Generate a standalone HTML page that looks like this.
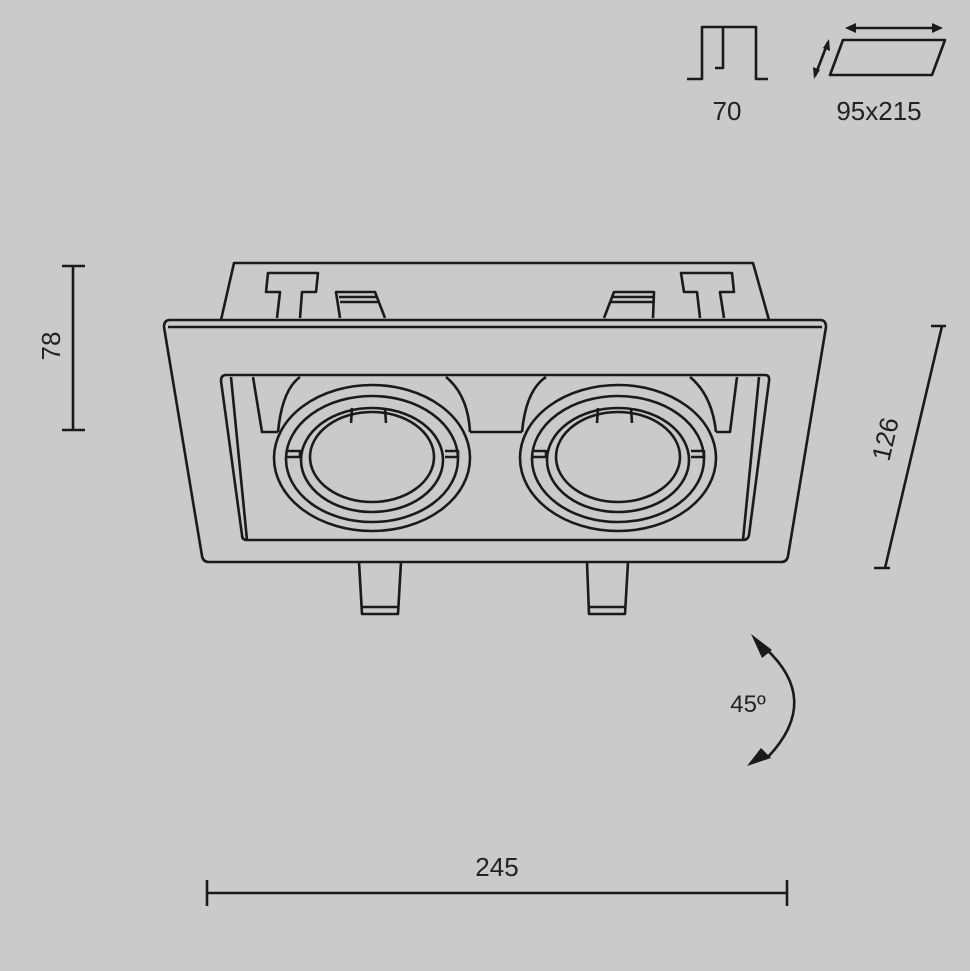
<!DOCTYPE html>
<html><head><style>
html,body{margin:0;padding:0;background:#cacaca;}
svg{display:block}
text{font-family:"Liberation Sans",sans-serif;fill:#222;}
</style></head><body>
<svg width="970" height="971" viewBox="0 0 970 971" xmlns="http://www.w3.org/2000/svg">
<rect width="970" height="971" fill="#cacaca"/>
<g fill="none" stroke="#1a1a1a" stroke-width="2.6" stroke-linejoin="round">
<!-- top icons -->
<path d="M687 79 H702 V27 H756 V79 H768"/>
<path d="M723 27 V68 H715"/>
<path d="M843 40 H945 L932 75 H830 Z"/>
<path d="M848 28 H940"/>
<path d="M828 42 L815 76"/>
</g>
<g fill="#1a1a1a">
<path d="M845 28 L856 23 L856 33 Z"/>
<path d="M943 28 L932 23 L932 33 Z"/>
<path d="M829 39 L830 51 L823 48 Z"/>
<path d="M814 79 L813 67 L820 70 Z"/>
</g>
<text x="727" y="120" font-size="26" text-anchor="middle">70</text>
<text x="879" y="120" font-size="26" text-anchor="middle">95x215</text>

<g fill="none" stroke="#1a1a1a" stroke-width="2.6" stroke-linejoin="round">
<!-- back box -->
<path d="M221 320 L234 263 H753 L769 320"/>
<!-- T clips -->
<path d="M277 318 L280 292 H266 L268 273 H318 L316 292 H302 L300 318"/>
<path d="M724 318 L720 292 H734 L732 273 H681 L684 292 H697 L700 318"/>
<!-- tabs -->
<path d="M340 318 L336 292 H375 L385 318 M339 297 H376 M340 302 H378"/>
<path d="M604 318 L614 292 H654 L653 318 M612 297 H653 M610 302 H653"/>
<!-- bottom tabs -->
<path d="M359 562 L362 614 H398 L401 562 M362 607 H398"/>
<path d="M587 562 L589 614 H625 L628 562 M589 607 H625"/>
<!-- frame -->
<path d="M170 320 H820 Q826 320 826 327 L788 556 Q787 562 781 562 H209 Q203 562 202 556 L164 327 Q164 320 170 320 Z" fill="#cacaca"/>
<path d="M168 327 H822"/>
<!-- opening -->
<path d="M226 375 H765 Q770 375 769 381 L749 535 Q748 540 743 540 H247 Q242 540 242 535 L221 381 Q221 375 226 375 Z"/>
<!-- back walls -->
<path d="M231 377 L247 540 M253 377 L262 432 H278"/>
<path d="M759 377 L743 540 M737 377 L730 432 H716"/>
<path d="M470 432 H522"/>
<!-- housings -->
<path d="M278 432 Q282 390 300 377 M446 377 Q468 395 470 432"/>
<path d="M522 432 Q526 390 546 377 M690 377 Q712 395 716 432"/>
<!-- lens left -->
<ellipse cx="372" cy="458" rx="98" ry="73"/>
<ellipse cx="372" cy="459" rx="86" ry="63"/>
<ellipse cx="372" cy="460" rx="71" ry="52"/>
<ellipse cx="372" cy="457" rx="62" ry="45"/>
<path d="M352 408 L351 423 M385 408 L386 423 M287 451 H300 V457 H287 M445 451 H458 V457 H445"/>
<!-- lens right -->
<ellipse cx="618" cy="458" rx="98" ry="73"/>
<ellipse cx="618" cy="459" rx="86" ry="63"/>
<ellipse cx="618" cy="460" rx="71" ry="52"/>
<ellipse cx="618" cy="457" rx="62" ry="45"/>
<path d="M598 408 L597 423 M631 408 L632 423 M533 451 H546 V457 H533 M691 451 H704 V457 H691"/>
<!-- dimension lines -->
<path d="M73 266 V430 M62 266 H85 M62 430 H85"/>
<path d="M942 326 L885 568 M931 326 H946 M874 568 H890"/>
<path d="M207 893 H787 M207 880 V906 M787 880 V906"/>
<!-- rotation arc -->
<path d="M765 648 Q822 700 768 757"/>
</g>
<g fill="#1a1a1a">
<path d="M751 634 L772 650 L762 658 Z"/>
<path d="M747 766 L761 748 L771 758 Z"/>
</g>
<text x="0" y="0" font-size="26" text-anchor="middle" transform="translate(60 346) rotate(-90)">78</text>
<text x="0" y="0" font-size="26" text-anchor="middle" transform="translate(894 441) rotate(-77)">126</text>
<text x="497" y="876" font-size="26" text-anchor="middle">245</text>
<text x="748" y="712" font-size="24" text-anchor="middle">45º</text>
</svg>
</body></html>
